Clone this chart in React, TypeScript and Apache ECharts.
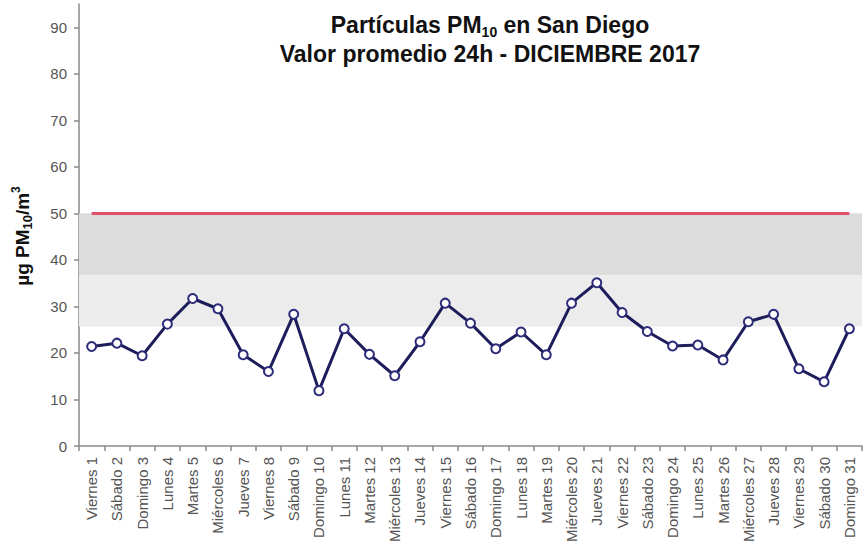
import React, { useEffect, useRef } from "react";
import * as echarts from "echarts";

const CATEGORIES = [
  "Viernes 1", "Sábado 2", "Domingo 3", "Lunes 4", "Martes 5", "Miércoles 6", "Jueves 7",
  "Viernes 8", "Sábado 9", "Domingo 10", "Lunes 11", "Martes 12", "Miércoles 13", "Jueves 14",
  "Viernes 15", "Sábado 16", "Domingo 17", "Lunes 18", "Martes 19", "Miércoles 20", "Jueves 21",
  "Viernes 22", "Sábado 23", "Domingo 24", "Lunes 25", "Martes 26", "Miércoles 27", "Jueves 28",
  "Viernes 29", "Sábado 30", "Domingo 31",
];

const PM10 = [
  21.4, 22.1, 19.4, 26.2, 31.7, 29.5, 19.6, 16.0, 28.3, 11.9, 25.2, 19.7, 15.1, 22.4, 30.7,
  26.4, 20.9, 24.5, 19.6, 30.7, 35.1, 28.7, 24.6, 21.5, 21.7, 18.5, 26.7, 28.3, 16.6, 13.8, 25.2,
];

const LIMIT = 50;
const BAND_HIGH = [36.7, 50];
const BAND_LOW = [25.7, 36.7];
const Y_MIN = 0;
const Y_MAX = 95;
const Y_INTERVAL = 10;

const TITLE_LINE1 = ["Partículas PM", "10", " en San Diego"];
const TITLE_LINE2 = "Valor promedio 24h - DICIEMBRE 2017";
const Y_NAME = ["µg PM", "10", "/m", "3"];

const FONT = "'Liberation Sans', Arial, sans-serif";

export default function App() {
  const ref = useRef<HTMLDivElement>(null);

  useEffect(() => {
    if (!ref.current) return;
    const chart = echarts.init(ref.current, undefined, { renderer: "svg" });
    chart.setOption({
      animation: false,
      backgroundColor: "#ffffff",
      textStyle: { fontFamily: FONT },
      grid: { left: 79, right: 4, top: 4, bottom: 95, containLabel: false, outerBoundsMode: "none" },
      graphic: [
        {
          type: "text",
          x: 490,
          y: 10,
          style: {
            text:
              `{b|${TITLE_LINE1[0]}}{s|${TITLE_LINE1[1]}}{b|${TITLE_LINE1[2]}}\n{b|${TITLE_LINE2}}`,
            textAlign: "center",
            fill: "#111",
            fontFamily: FONT,
            rich: {
              b: { fontSize: 23, fontWeight: "bold", lineHeight: 29, fontFamily: FONT, fill: "#111" },
              s: { fontSize: 14, fontWeight: "bold", lineHeight: 18, verticalAlign: "bottom", fontFamily: FONT, fill: "#111" },
            },
          },
        },
      ],
      xAxis: {
        type: "category",
        data: CATEGORIES,
        boundaryGap: true,
        axisLine: { show: true, lineStyle: { color: "#8a8a8a", width: 1.5 } },
        axisTick: { show: true, length: 5, lineStyle: { color: "#8a8a8a", width: 1.5 } },
        axisLabel: {
          interval: 0,
          rotate: 90,
          fontSize: 15,
          color: "#555",
          margin: 11,
          fontFamily: FONT,
        },
        splitLine: { show: false },
      },
      yAxis: {
        type: "value",
        min: Y_MIN,
        max: Y_MAX,
        interval: Y_INTERVAL,
        name: `{b|${Y_NAME[0]}}{s|${Y_NAME[1]}}{b|${Y_NAME[2]}}{p|${Y_NAME[3]}}`,
        nameLocation: "middle",
        nameGap: 45,
        nameTextStyle: {
          padding: [0, 22, 0, 0],
          rich: {
            b: { fontSize: 19, fontWeight: "bold", color: "#111", lineHeight: 24, fontFamily: FONT },
            s: { fontSize: 13, fontWeight: "bold", color: "#111", lineHeight: 16, verticalAlign: "bottom", fontFamily: FONT },
            p: { fontSize: 12, fontWeight: "bold", color: "#111", lineHeight: 13, verticalAlign: "top", fontFamily: FONT },
          },
        },
        axisLine: { show: true, lineStyle: { color: "#8a8a8a", width: 1.5 } },
        axisTick: { show: true, length: 5, lineStyle: { color: "#8a8a8a", width: 1.5 } },
        axisLabel: { fontSize: 15, color: "#555", margin: 12, showMaxLabel: false, fontFamily: FONT },
        splitLine: { show: false },
      },
      series: [
        {
          type: "line",
          data: PM10,
          symbol: "circle",
          symbolSize: 9,
          z: 5,
          lineStyle: { color: "#1d1d5c", width: 3 },
          itemStyle: { color: "#ffffff", borderColor: "#2c2c7a", borderWidth: 2 },
          markArea: {
            silent: true,
            z: 1,
            data: [
              [
                { yAxis: BAND_HIGH[0], itemStyle: { color: "#dcdcdc" } },
                { yAxis: BAND_HIGH[1] },
              ],
              [
                { yAxis: BAND_LOW[0], itemStyle: { color: "#ececec" } },
                { yAxis: BAND_LOW[1] },
              ],
            ],
          },
          markLine: {
            silent: true,
            symbol: "none",
            label: { show: false },
            lineStyle: { color: "#e0506a", width: 3, type: "solid" },
            data: [[{ coord: [0, LIMIT] }, { coord: [CATEGORIES.length - 1, LIMIT] }]],
          },
        },
      ],
    });
    return () => chart.dispose();
  }, []);

  return <div ref={ref} style={{ position: "fixed", left: 0, top: 0, width: 866, height: 541 }} />;
}
